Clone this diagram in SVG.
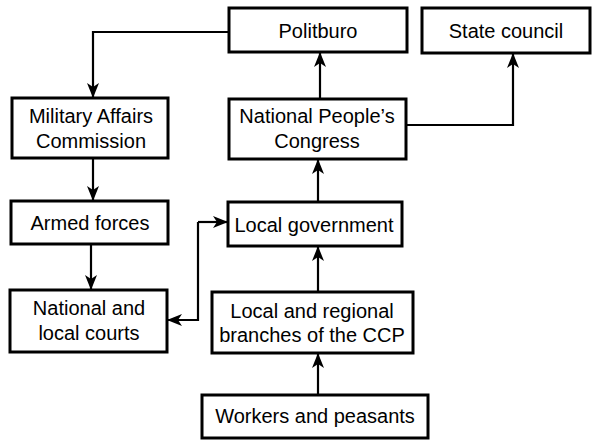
<svg xmlns="http://www.w3.org/2000/svg" width="593" height="440" viewBox="0 0 593 440">
<style>
.box{fill:#fff;stroke:#000;stroke-width:3}
.t{font-family:"Liberation Sans",Arial,sans-serif;font-size:20px;fill:#000;text-anchor:middle}
.c{fill:none;stroke:#000;stroke-width:2.2}
</style>
<defs>
<marker id="ah" markerWidth="15" markerHeight="12" refX="14" refY="6" orient="auto" markerUnits="userSpaceOnUse" viewBox="0 0 15 12">
<path d="M0,0 L15,6 L0,12 L4,6 Z" fill="#000"/>
</marker>
</defs>
<rect width="593" height="440" fill="#fff"/>
<g id="connectors">
<path class="c" d="M229,32 H93 V97" marker-end="url(#ah)"/>
<path class="c" d="M320,98 V53" marker-end="url(#ah)"/>
<path class="c" d="M406,125 H513 V54" marker-end="url(#ah)"/>
<path class="c" d="M93,158 V200" marker-end="url(#ah)"/>
<path class="c" d="M91,244 V289" marker-end="url(#ah)"/>
<path class="c" d="M318,202 V160" marker-end="url(#ah)"/>
<path class="c" d="M318,292 V247" marker-end="url(#ah)"/>
<path class="c" d="M318,395 V354" marker-end="url(#ah)"/>
<path class="c" d="M198,222 V320 H168" marker-end="url(#ah)"/>
<path class="c" d="M198,222 H227" marker-end="url(#ah)"/>
</g>
<g id="politburo">
<rect class="box" x="229" y="8" width="178" height="44"/>
<text class="t" x="318" y="38">Politburo</text>
</g>
<g id="state-council">
<rect class="box" x="422" y="8" width="168" height="45"/>
<text class="t" x="506" y="38">State council</text>
</g>
<g id="mac">
<rect class="box" x="12" y="98" width="156" height="60"/>
<text class="t" x="91" y="123">Military Affairs</text>
<text class="t" x="91" y="148">Commission</text>
</g>
<g id="npc">
<rect class="box" x="229" y="99" width="177" height="60"/>
<text class="t" x="317" y="123">National People’s</text>
<text class="t" x="317" y="148">Congress</text>
</g>
<g id="armed-forces">
<rect class="box" x="11" y="201" width="157" height="43"/>
<text class="t" x="90" y="230">Armed forces</text>
</g>
<g id="local-government">
<rect class="box" x="228" y="202" width="174" height="44"/>
<text class="t" x="314" y="232">Local government</text>
</g>
<g id="courts">
<rect class="box" x="10" y="290" width="157" height="62"/>
<text class="t" x="89" y="315">National and</text>
<text class="t" x="89" y="340">local courts</text>
</g>
<g id="ccp-branches">
<rect class="box" x="212" y="292" width="201" height="61"/>
<text class="t" x="312" y="318">Local and regional</text>
<text class="t" x="312" y="342">branches of the CCP</text>
</g>
<g id="workers">
<rect class="box" x="202" y="395" width="226" height="43"/>
<text class="t" x="315" y="423">Workers and peasants</text>
</g>
</svg>
